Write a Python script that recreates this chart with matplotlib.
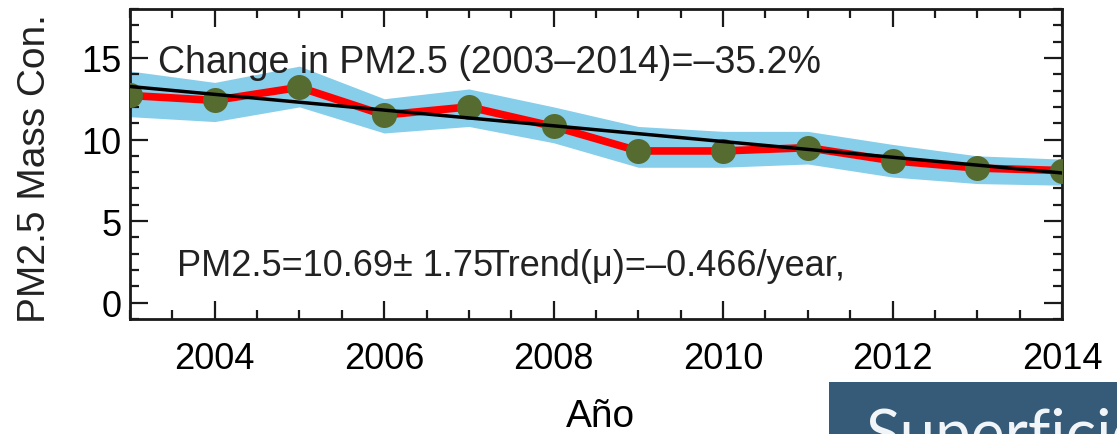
import numpy as np
import matplotlib
matplotlib.use('Agg')
import matplotlib.pyplot as plt
from matplotlib.patches import Rectangle
from matplotlib.ticker import MultipleLocator

plt.rcParams['font.family'] = ['Liberation Sans', 'DejaVu Sans']

# values
years = [2003, 2004, 2005, 2006, 2007, 2008, 2009, 2010, 2011, 2012, 2013, 2014]
pm25 = [12.7, 12.4, 13.2, 11.5, 12.0, 10.8, 9.3, 9.3, 9.5, 8.7, 8.25, 8.1]
pm25_upper = [14.2, 13.5, 14.5, 12.5, 13.1, 12.0, 10.8, 10.5, 10.5, 9.7, 9.0, 8.8]
pm25_lower = [11.4, 11.1, 12.0, 10.4, 10.8, 9.8, 8.3, 8.3, 8.5, 7.7, 7.3, 7.2]
trend_years = [2003, 2014]
trend_vals = [13.25, 7.95]

x_ticks = [2004, 2006, 2008, 2010, 2012, 2014]
y_ticks = [0, 5, 10, 15]

change_txt = 'Change in PM2.5 (2003\u20132014)=\u201335.2%'
mean_txt = 'PM2.5=10.69\u00b1 1.75'
trend_txt = 'Trend(\u03bc)=\u20130.466/year,'

W, H = 1117, 435
fig = plt.figure(figsize=(W / 100, H / 100), dpi=100)
ax = fig.add_axes([130 / W, 1 - 320 / H, 932 / W, 310 / H])

# shaded band, red series, dots, then the black trend on top
ax.fill_between(years, pm25_lower, pm25_upper, color='#87ceeb', lw=0, zorder=1)
ax.plot(years, pm25, color='#ff0000', lw=5.5, zorder=2)
ax.plot(years, pm25, 'o', color='#556b2f', ms=18, mec='none', zorder=3)
ax.plot(trend_years, trend_vals, color='black', lw=2.5, zorder=4)

ax.set_xlim(2003, 2014)
ax.set_ylim(-1, 18)
ax.set_xticks(x_ticks)
ax.set_yticks(y_ticks)
ax.xaxis.set_minor_locator(MultipleLocator(0.5))
ax.yaxis.set_minor_locator(MultipleLocator(1))
ax.tick_params(which='both', direction='in', top=True, right=True, width=1.6, color='#1a1a1a')
ax.tick_params(which='major', length=13)
ax.tick_params(which='minor', length=6.5)
ax.tick_params(axis='x', which='major', labelsize=26, pad=16)
ax.tick_params(axis='y', which='major', labelsize=26, pad=6)
for s in ax.spines.values():
    s.set_linewidth(2)
    s.set_color('#1a1a1a')

ax.text(2003.33, 14.14, change_txt, fontsize=27, ha='left', va='baseline', color='#222222', zorder=5)
ax.text(2003.55, 1.7, mean_txt, fontsize=26, ha='left', va='baseline', color='#222222', zorder=5)
ax.text(2007.22, 1.7, trend_txt, fontsize=26, ha='left', va='baseline', color='#222222', zorder=5)

fig.text(35 / W, 1 - 323 / H, 'PM2.5 Mass Con.', rotation=90, fontsize=28,
         ha='center', va='bottom', color='#222222')
fig.text(600 / W, 1 - 417 / H, 'Año', fontsize=28, ha='center', va='center', color='black')

# dark box bottom-right with caption cut by the lower edge, as in the source
fig.patches.append(Rectangle((829 / W, 0), 1 - 829 / W, 52 / H, transform=fig.transFigure,
                             facecolor='#355b79', edgecolor='none', zorder=0))
fig.text(866 / W, 1 - 455 / H, 'Superficie', fontsize=46, fontfamily=['Lato', 'DejaVu Sans'],
         ha='left', va='baseline', color='#f2f5f7')

fig.savefig('out.png', dpi=100)
